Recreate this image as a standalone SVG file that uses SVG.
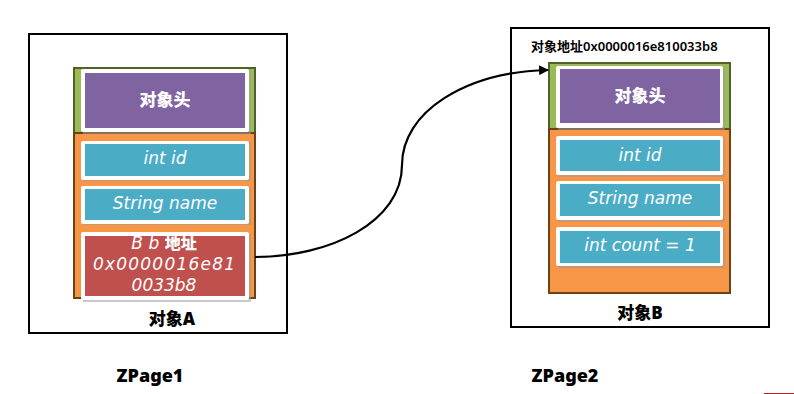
<svg xmlns="http://www.w3.org/2000/svg" width="794" height="394" viewBox="0 0 794 394">
<defs>
<style>
.page{fill:#fff;stroke:#000;stroke-width:2}
.hdr{fill:#9bbb59;stroke:#4f6228;stroke-width:2}
.body{fill:#f79646;stroke:#6b4216;stroke-width:2}
.frame{fill:#fff}
.shadow{fill:#9a9a9a;opacity:0.55}
.purple{fill:#8064a2}
.blue{fill:#4bacc6}
.red{fill:#c0504d}
.hand{font-family:"DejaVu Sans",sans-serif;font-style:italic;font-size:17px;fill:#fff;text-anchor:middle}
.cjkw{font-family:"Noto Sans CJK SC","Noto Sans",sans-serif;font-weight:900;font-size:17px;fill:#fff;text-anchor:middle}
.lbl{font-family:"Noto Sans","Noto Sans CJK SC",sans-serif;font-weight:900;font-size:17px;fill:#000;text-anchor:middle}
.addr{font-family:"Noto Sans","Noto Sans CJK SC",sans-serif;font-weight:600;font-size:13px;fill:#000}
.conn{fill:none;stroke:#000;stroke-width:2.2}
</style>
<marker id="arr" viewBox="0 0 10 10" refX="9" refY="5" markerWidth="4.5" markerHeight="4.5" orient="auto" markerUnits="strokeWidth">
<path d="M0,0 L10,5 L0,10 z" fill="#000"/>
</marker>
</defs>

<g id="zpage1">
<rect class="page" x="29" y="34" width="258" height="299"/>
<text class="lbl" x="150" y="382" style="font-size:18px">ZPage1</text>
</g>

<g id="zpage2">
<rect class="page" x="511" y="28" width="258" height="299"/>
<text class="lbl" x="565" y="382" style="font-size:18px">ZPage2</text>
</g>

<g id="objectA">
<rect class="hdr" x="74" y="68" width="181" height="65"/>
<rect class="body" x="74" y="133" width="181" height="165"/>
<rect class="shadow" x="83" y="71" width="168" height="63"/>
<rect class="frame" x="81" y="69" width="168" height="63" rx="2"/>
<rect class="purple" x="85" y="73" width="160" height="55"/>
<text class="cjkw" x="165" y="106">对象头</text>

<rect class="shadow" x="83" y="142" width="168" height="39"/>
<rect class="frame" x="81" y="141" width="168" height="39" rx="2"/>
<rect class="blue" x="85" y="144" width="160" height="32"/>
<text class="hand" x="165" y="164">int id</text>

<rect class="shadow" x="83" y="187" width="168" height="38"/>
<rect class="frame" x="81" y="186" width="168" height="38" rx="2"/>
<rect class="blue" x="85" y="189" width="160" height="31"/>
<text class="hand" x="165" y="209">String name</text>

<rect class="shadow" x="83" y="234" width="168" height="68"/>
<rect class="frame" x="81" y="232" width="168" height="68" rx="2"/>
<rect class="red" x="85" y="236" width="160" height="60"/>
<text class="hand" x="164" y="249"><tspan>B b </tspan><tspan style="font-family:'Noto Sans CJK SC',sans-serif;font-style:normal;font-weight:900;font-size:16px">地址</tspan></text>
<text class="hand" x="164" y="270" textLength="142">0x0000016e81</text>
<text class="hand" x="164" y="291">0033b8</text>

<text class="lbl" x="172" y="325">对象A</text>
</g>

<g id="objectB">
<text class="addr" x="531" y="51">对象地址0x0000016e810033b8</text>
<rect class="hdr" x="549" y="63" width="181" height="66"/>
<rect class="body" x="549" y="129" width="181" height="164"/>
<rect class="shadow" x="558" y="68" width="167" height="62"/>
<rect class="frame" x="556" y="66" width="167" height="62" rx="2"/>
<rect class="purple" x="560" y="69" width="160" height="54"/>
<text class="cjkw" x="640" y="102">对象头</text>

<rect class="shadow" x="558" y="138" width="167" height="39"/>
<rect class="frame" x="556" y="136" width="167" height="39" rx="2"/>
<rect class="blue" x="560" y="140" width="160" height="31"/>
<text class="hand" x="640" y="161">int id</text>

<rect class="shadow" x="558" y="183" width="167" height="39"/>
<rect class="frame" x="556" y="181" width="167" height="39" rx="2"/>
<rect class="blue" x="560" y="184" width="160" height="32"/>
<text class="hand" x="640" y="204">String name</text>

<rect class="shadow" x="558" y="229" width="167" height="39"/>
<rect class="frame" x="556" y="227" width="167" height="39" rx="2"/>
<rect class="blue" x="560" y="231" width="160" height="32"/>
<text class="hand" x="640" y="251">int count = 1</text>

<text class="lbl" x="640" y="319">对象B</text>
</g>

<g id="connectors">
<path class="conn" marker-end="url(#arr)" d="M255,257 C330,257 402,222 402,165 C402,112 465,72 548,70"/>
</g>

<line x1="764" y1="393.5" x2="794" y2="393.5" stroke="#b22222" stroke-width="1"/>
</svg>
